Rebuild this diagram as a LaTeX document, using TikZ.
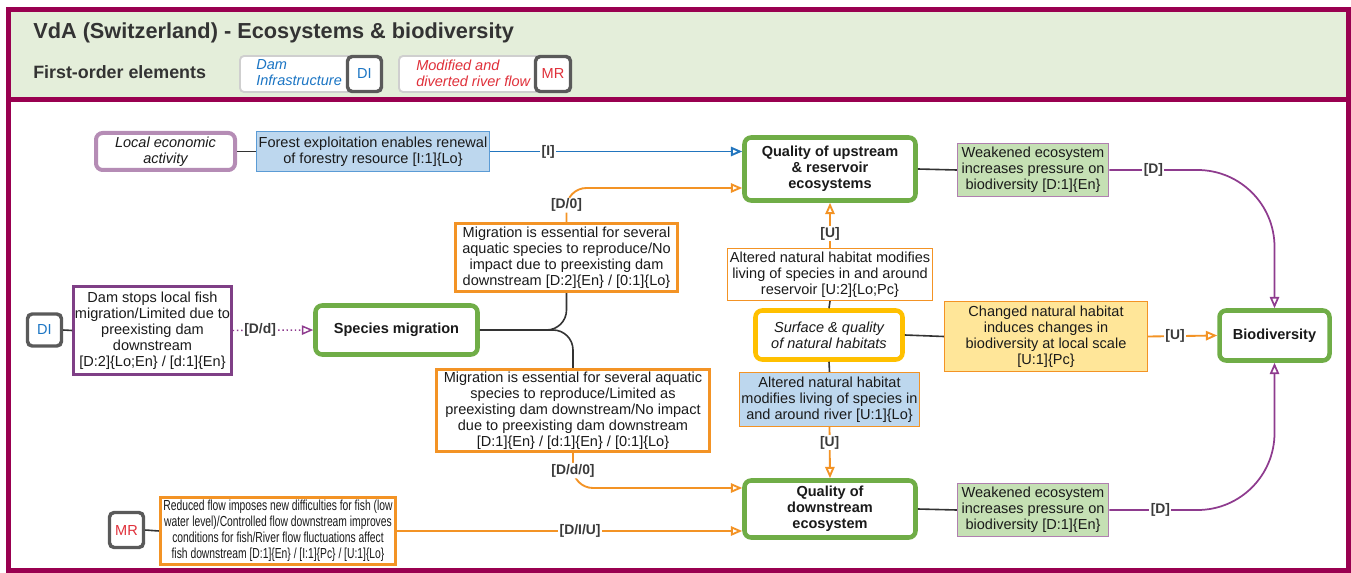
\documentclass[tikz,border=0pt]{standalone}
\usepackage{fontspec}
\setmainfont{Liberation Sans}
\newfontfamily\condfont[FakeStretch=0.71]{Liberation Sans}
\usetikzlibrary{arrows.meta,calc}

\newdimen\px \px=0.75pt
\newcommand\bodyfont{\fontsize{10.9pt}{12pt}\selectfont}
\newcommand\lblfont{\fontsize{10.4pt}{12pt}\selectfont\bfseries}

\definecolor{frame}{HTML}{990050}
\definecolor{hdrfill}{HTML}{E4EEDA}
\definecolor{hdrtext}{HTML}{333333}
\definecolor{keygreen}{HTML}{70AD47}
\definecolor{gold}{HTML}{FFC000}
\definecolor{orng}{HTML}{F39325}
\definecolor{bluefill}{HTML}{BDD7EE}
\definecolor{blueedge}{HTML}{5B9BD5}
\definecolor{bluearrow}{HTML}{2275BE}
\definecolor{greenfill}{HTML}{C5E0B4}
\definecolor{mauve}{HTML}{B07FB0}
\definecolor{econedge}{HTML}{B58CB5}
\definecolor{damedge}{HTML}{7F3F86}
\definecolor{purparrow}{HTML}{8E3B8E}
\definecolor{yellowfill}{HTML}{FFE699}
\definecolor{boxgray}{HTML}{5A5A5A}
\definecolor{leggray}{HTML}{CFCFCF}
\definecolor{textblue}{HTML}{1B75C4}
\definecolor{textred}{HTML}{E0303A}
\definecolor{textdark}{HTML}{1A1A1A}
\definecolor{lblgray}{HTML}{3A3A3A}
\definecolor{linedark}{HTML}{333333}

\begin{document}
\begin{tikzpicture}[x=0.75pt,y=-0.75pt,
  wh/.style 2 args={minimum width=#1\px, minimum height=#2\px},
  base/.style={inner sep=0pt, align=center, font=\bodyfont, text=textdark},
  keynode/.style={base, draw=keygreen, line width=3.4pt, rounded corners=5pt, fill=white, font=\bodyfont\bfseries},
  codebox/.style={base, draw=boxgray, line width=2.6pt, rounded corners=3.5pt, fill=white},
  orangebox/.style={base, draw=orng, line width=2.6pt, fill=white},
  thinorange/.style={base, draw=orng, line width=0.9pt},
  bluebox/.style={base, draw=blueedge, line width=1.1pt, fill=bluefill},
  greenbox/.style={base, draw=mauve, line width=1.1pt, fill=greenfill},
  lbl/.style={fill=white, inner sep=1pt, font=\lblfont, text=lblgray},
  tip/.style={-{Triangle[open,length=8.5pt,width=7pt]}},
  plain/.style={draw=linedark, line width=1.2pt},
  oconn/.style={draw=orng, line width=1.4pt, tip},
  pconn/.style={draw=purparrow, line width=1.3pt, tip},
]
\useasboundingbox (0,0) rectangle (1351,573);

% header band and frame
\fill[hdrfill] (8,9.5) rectangle (1348,99.5);
\draw[frame, line width=3.75pt] (8,9.5) rectangle (1348,570);
\draw[frame, line width=3.75pt] (8,99.5) -- (1348,99.5);

\node[anchor=west, inner sep=0pt, text=hdrtext, font=\fontsize{16.3pt}{18pt}\selectfont\bfseries] (title) at (33,33)
  {VdA (Switzerland) - Ecosystems \& biodiversity};
\node[anchor=west, inner sep=0pt, text=hdrtext, font=\fontsize{13.4pt}{15pt}\selectfont\bfseries] (firstorder) at (33,72)
  {First-order elements};

% legend
\node[draw=leggray, line width=1.4pt, fill=white, rounded corners=3pt, wh={142}{36}] (leg1) at (311,74) {};
\node[anchor=west, inner sep=0pt, align=left, text=textblue, font=\bodyfont\itshape] (leg1txt) at (256,73) {Dam\\Infrastructure};
\node[codebox, wh={34}{35}, text=textblue] (legDI) at (364.5,74) {DI};
\node[draw=leggray, line width=1.4pt, fill=white, rounded corners=3pt, wh={172}{36}] (leg2) at (485,74) {};
\node[anchor=west, inner sep=0pt, align=left, text=textred, font=\bodyfont\itshape] (leg2txt) at (416,73) {Modified and\\diverted river flow};
\node[codebox, wh={35}{35}, text=textred] (legMR) at (553,74) {MR};

% nodes
\node[base, draw=econedge, line width=3pt, rounded corners=5pt, fill=white, wh={139}{37}, font=\bodyfont\itshape] (econ) at (165.5,151.5)
  {Local economic\\activity};
\node[bluebox, wh={233}{40}] (forest) at (373,151.5)
  {Forest exploitation enables renewal\\of forestry resource [I:1]\{Lo\}};
\node[keynode, wh={171}{63}] (upstream) at (830,169)
  {Quality of upstream\\\& reservoir\\ecosystems};
\node[greenbox, wh={151}{53}] (weak1) at (1033,170)
  {Weakened ecosystem\\increases pressure on\\biodiversity [D:1]\{En\}};
\node[keynode, wh={110}{50}] (biodiv) at (1274.5,335.5) {Biodiversity};

\node[codebox, wh={34}{32}, text=textblue] (DI) at (44.5,330) {DI};
\node[base, draw=damedge, line width=1.9pt, fill=white, wh={158}{88}] (damstops) at (152.5,330.5)
  {Dam stops local fish\\migration/Limited due to\\preexisting dam\\downstream\\{}[D:2]\{Lo;En\} / [d:1]\{En\}};
\node[keynode, wh={162}{49}] (species) at (396.5,330) {Species migration};

\node[orangebox, wh={222}{68}] (mig1) at (566.5,257.5)
  {Migration is essential for several\\aquatic species to reproduce/No\\impact due to preexisting dam\\downstream [D:2]\{En\} / [0:1]\{Lo\}};
\node[orangebox, wh={273}{82}] (mig2) at (573,410.5)
  {Migration is essential for several aquatic\\species to reproduce/Limited as\\preexisting dam downstream/No impact\\due to preexisting dam downstream\\{}[D:1]\{En\} / [d:1]\{En\} / [0:1]\{Lo\}};

\node[thinorange, fill=white, wh={205}{52}] (altres) at (830,274.5)
  {Altered natural habitat modifies\\living of species in and around\\reservoir [U:2]\{Lo;Pc\}};
\node[base, draw=gold, line width=3.4pt, rounded corners=5pt, fill=white, wh={147}{49}, font=\bodyfont\itshape] (surface) at (829,335)
  {Surface \& quality\\of natural habitats};
\node[thinorange, fill=bluefill, wh={180}{54}] (altriv) at (829.5,399.5)
  {Altered natural habitat\\modifies living of species in\\and around river [U:1]\{Lo\}};
\node[thinorange, fill=yellowfill, wh={203}{70}] (changed) at (1046,336.5)
  {Changed natural habitat\\induces changes in\\biodiversity at local scale\\{}[U:1]\{Pc\}};

\node[keynode, wh={171}{57}] (downstream) at (830,509)
  {Quality of\\downstream\\ecosystem};
\node[greenbox, wh={151}{53}] (weak2) at (1033,510)
  {Weakened ecosystem\\increases pressure on\\biodiversity [D:1]\{En\}};

\node[codebox, wh={34}{35}, text=textred] (MR) at (126.5,530) {MR};
\node[orangebox, wh={235}{67}, font=\condfont\fontsize{10.9pt}{12pt}\selectfont] (reduced) at (278,531)
  {Reduced flow imposes new difficulties for fish (low\\water level)/Controlled flow downstream improves\\conditions for fish/River flow fluctuations affect\\fish downstream [D:1]\{En\} / [I:1]\{Pc\} / [U:1]\{Lo\}};

% corner points of the two curved links into Biodiversity
\coordinate (ctop) at (biodiv.north |- weak1.east);
\coordinate (cbot) at (biodiv.south |- weak2.east);

% plain links
\draw[plain] (econ.east) -- (forest.west);
\draw[plain] (DI.east) -- (damstops.west);
\draw[plain] (MR.east) -- (reduced.west);
\draw[plain] (upstream.east) -- (weak1.west);
\draw[plain] (downstream.east) -- (weak2.west);
\draw[plain] (surface.east) -- (changed.west);
\draw[plain] (altres.south) -- (surface.north);
\draw[plain] (surface.south) -- (altriv.north);
\draw[plain, rounded corners=15pt] (mig1.south) |- (species.east);
\draw[plain, rounded corners=15pt] (mig2.north) |- (species.east);

% influence links
\draw[draw=bluearrow, line width=1.4pt, tip] (forest.east) -- node[lbl, pos=0.23] {[I]} (forest.east -| upstream.west);
\draw[oconn, rounded corners=15pt] (mig1.north) |- node[lbl, pos=0.25] {[D/0]} ($(upstream.west)+(0,19)$);
\draw[oconn, rounded corners=15pt] (mig2.south) |- node[lbl, pos=0.25] {[D/d/0]} ($(downstream.west)+(0,-21)$);
\draw[draw=purparrow, line width=1.1pt, dotted, tip] (damstops.east) -- node[lbl, pos=0.34] {[D/d]} (species.west);
\draw[oconn] (reduced.east) -- node[lbl, pos=0.53] {[D/I/U]} (reduced.east -| downstream.west);
\draw[oconn] (altres.north) -- node[lbl, pos=0.32] {[U]} (upstream.south);
\draw[oconn] (altriv.south) -- node[lbl, pos=0.3] {[U]} (downstream.north);
\draw[oconn] (changed.east) -- node[lbl, pos=0.39] {[U]} (biodiv.west);
\draw[pconn] (weak1.east) -- node[lbl, pos=0.5] {[D]} ($(ctop)+(-77,0)$)
  .. controls ($(ctop)+(-34.5,0)$) and ($(ctop)+(0,34.5)$) .. ($(ctop)+(0,77)$) -- (biodiv.north);
\draw[pconn] (weak2.east) -- node[lbl, pos=0.58] {[D]} ($(cbot)+(-77,0)$)
  .. controls ($(cbot)+(-34.5,0)$) and ($(cbot)+(0,-34.5)$) .. ($(cbot)+(0,-77)$) -- (biodiv.south);
\end{tikzpicture}
\end{document}
